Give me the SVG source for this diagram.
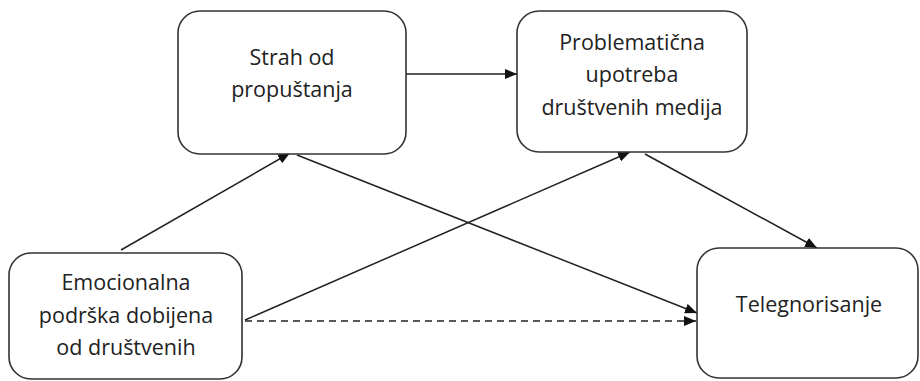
<svg xmlns="http://www.w3.org/2000/svg" width="920" height="381" viewBox="0 0 920 381">
<style>
.box{fill:#fff;stroke:#333;stroke-width:1.6}
.lbl{font-family:"Open Sans","Liberation Sans",sans-serif;font-size:21.5px;fill:#222;text-anchor:middle}
.c{fill:none;stroke:#222;stroke-width:1.5}
.d{stroke-dasharray:7 5}
</style>
<defs>
<marker id="ah" viewBox="0 0 12 10" refX="12" refY="5" markerWidth="12" markerHeight="10" markerUnits="userSpaceOnUse" orient="auto">
<path d="M0,0 L12,5 L0,10 Z" fill="#111"/>
</marker>
</defs>
<rect width="920" height="381" fill="#fff"/>
<g id="connectors">
<line class="c" x1="406" y1="74" x2="517" y2="74" marker-end="url(#ah)"/>
<line class="c" x1="121" y1="250" x2="290" y2="153" marker-end="url(#ah)"/>
<line class="c" x1="297" y1="155" x2="697" y2="313" marker-end="url(#ah)"/>
<line class="c" x1="245" y1="320" x2="630" y2="152" marker-end="url(#ah)"/>
<line class="c d" x1="245" y1="321" x2="696" y2="321" marker-end="url(#ah)"/>
<line class="c" x1="645" y1="154" x2="817" y2="248" marker-end="url(#ah)"/>
</g>
<g id="strah">
<rect class="box" x="178" y="11" width="228" height="143" rx="22"/>
<text class="lbl" x="292" y="65">Strah od</text>
<text class="lbl" x="292" y="97">propuštanja</text>
</g>
<g id="problematicna">
<rect class="box" x="517" y="11" width="230" height="141" rx="22"/>
<text class="lbl" x="632" y="50">Problematična</text>
<text class="lbl" x="632" y="82">upotreba</text>
<text class="lbl" x="632" y="115">društvenih medija</text>
</g>
<g id="emocionalna">
<rect class="box" x="9" y="253" width="233" height="126" rx="22"/>
<text class="lbl" x="126" y="290">Emocionalna</text>
<text class="lbl" x="126" y="323">podrška dobijena</text>
<text class="lbl" x="126" y="355">od društvenih</text>
</g>
<g id="telegnorisanje">
<rect class="box" x="697" y="248" width="221" height="130" rx="22"/>
<text class="lbl" x="809" y="312">Telegnorisanje</text>
</g>
</svg>
